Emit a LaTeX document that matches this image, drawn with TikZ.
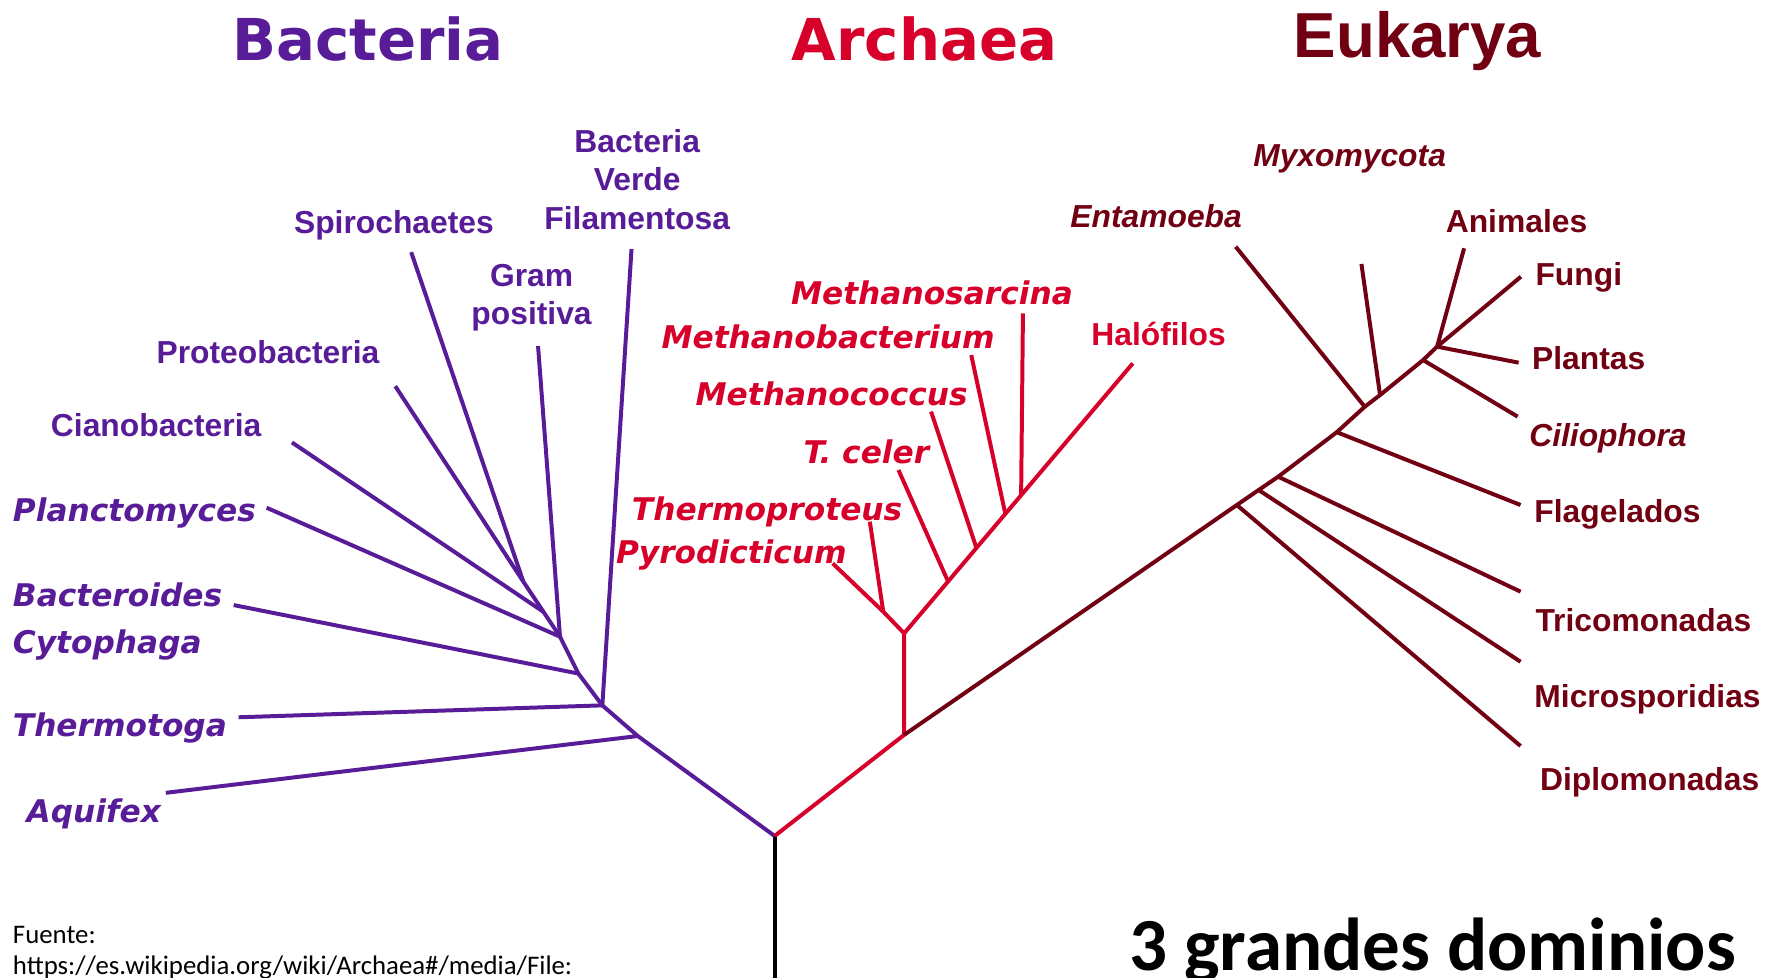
\documentclass[tikz,border=0pt]{standalone}
\usepackage{fontspec}
\newfontfamily\arialf{Liberation Sans}
\newfontfamily\dejaf{DejaVu Sans}[ItalicFont={DejaVu Sans Oblique},BoldFont={DejaVu Sans Bold},BoldItalicFont={DejaVu Sans Bold Oblique}]
\newfontfamily\calf{Carlito}
\definecolor{bpur}{RGB}{88,28,152}
\definecolor{ared}{RGB}{214,0,42}
\definecolor{edark}{RGB}{112,0,18}
\begin{document}
\begin{tikzpicture}[x=0.5pt,y=-0.5pt,
  br/.style={line width=1.75pt, line join=round},
  lab/.style={inner sep=0pt, anchor=base west},
  ar/.style={font=\arialf\bfseries\fontsize{14}{17}\selectfont},
  ari/.style={font=\arialf\bfseries\itshape\fontsize{14}{17}\selectfont},
  dvi/.style={font=\dejaf\bfseries\itshape\fontsize{13.75}{16}\selectfont},
  ttl/.style={inner sep=0pt, anchor=base}]
\useasboundingbox (0,0) rectangle (1568,861);

% titles
\node[ttl, text=bpur, font=\dejaf\bfseries\fontsize{25.4}{30}\selectfont] (tB) at (324,53.6) {Bacteria};
\node[ttl, text=ared, font=\dejaf\bfseries\fontsize{25.4}{30}\selectfont] (tA) at (814,53.6) {Archaea};
\node[ttl, text=edark, font=\arialf\bfseries\fontsize{28}{32}\selectfont] (tE) at (1248,51) {Eukarya};

% coordinates
\coordinate (root) at (682,736);
\coordinate (rootbot) at (682,870);
\coordinate (A0) at (796,647);
% bacteria
\coordinate (bAq) at (561.5,648);
\coordinate (bTh) at (530.3,621);
\coordinate (bBc) at (509.2,593);
\coordinate (bCl) at (493,560.5);
\coordinate (bCy) at (478.5,538.7);
\coordinate (bSP) at (460.7,512);
\coordinate (lAq) at (146,698);
\coordinate (lTh) at (210,631.5);
\coordinate (lBc) at (205.7,532.7);
\coordinate (lPl) at (234.7,447);
\coordinate (lCi) at (257,389.5);
\coordinate (lPr) at (348,340);
\coordinate (lSp) at (362,222);
\coordinate (lGr) at (473.7,304.7);
\coordinate (lFi) at (556,219.3);
% archaea
\coordinate (A1) at (796,557.6);
\coordinate (lPy) at (733.1,496);
\coordinate (aTp) at (777.6,538.5);
\coordinate (lTp) at (765.8,459.3);
\coordinate (lHa) at (997.3,319.9);
\coordinate (aTc) at (834.7,512);
\coordinate (lTc) at (791,413.8);
\coordinate (aMc) at (859.8,482.8);
\coordinate (lMc) at (819.7,362.4);
\coordinate (aMb) at (885,452);
\coordinate (lMb) at (855.1,312.6);
\coordinate (aMs) at (899,435.8);
\coordinate (lMs) at (900.6,275.9);
% eukarya
\coordinate (eDi) at (1088.9,444.6);
\coordinate (eMi) at (1108.1,431.4);
\coordinate (eTr) at (1125.3,419.7);
\coordinate (eFl) at (1176.9,380.5);
\coordinate (eEn) at (1201.5,358.1);
\coordinate (eMy) at (1215,347.8);
\coordinate (eCi) at (1252.9,317);
\coordinate (eAF) at (1265.2,305.2);
\coordinate (lDi) at (1338.7,656.8);
\coordinate (lMi) at (1338.7,582.6);
\coordinate (lTr) at (1338.7,520.9);
\coordinate (lFl) at (1338.7,444.6);
\coordinate (lEn) at (1087.9,217.2);
\coordinate (lMy) at (1198.6,232.4);
\coordinate (lCi2) at (1336.1,366.8);
\coordinate (lPa) at (1337,319.3);
\coordinate (lFu) at (1339,243.6);
\coordinate (lAn) at (1289,218.6);

% root
\draw[br, black] (rootbot) -- (root);
% bacteria branches
\begin{scope}[draw=bpur]
\draw[br] (root) -- (bAq) -- (bTh) -- (bBc) -- (bCl) -- (bCy) -- (bSP);
\draw[br] (bAq) -- (lAq);
\draw[br] (bTh) -- (lTh);
\draw[br] (bTh) -- (lFi);
\draw[br] (bBc) -- (lBc);
\draw[br] (bCl) -- (lPl);
\draw[br] (bCl) -- (lGr);
\draw[br] (bCy) -- (lCi);
\draw[br] (bSP) -- (lPr);
\draw[br] (bSP) -- (lSp);
\end{scope}
% archaea branches
\begin{scope}[draw=ared]
\draw[br] (root) -- (A0) -- (A1);
\draw[br] (A1) -- (aTp) -- (lPy);
\draw[br] (aTp) -- (lTp);
\draw[br] (A1) -- (lHa);
\draw[br] (aTc) -- (lTc);
\draw[br] (aMc) -- (lMc);
\draw[br] (aMb) -- (lMb);
\draw[br] (aMs) -- (lMs);
\end{scope}
% eukarya branches
\begin{scope}[draw=edark]
\draw[br] (A0) -- (eDi) -- (eMi) -- (eTr) -- (eFl) -- (eEn) -- (eMy) -- (eCi) -- (eAF);
\draw[br] (eDi) -- (lDi);
\draw[br] (eMi) -- (lMi);
\draw[br] (eTr) -- (lTr);
\draw[br] (eFl) -- (lFl);
\draw[br] (eEn) -- (lEn);
\draw[br] (eMy) -- (lMy);
\draw[br] (eCi) -- (lCi2);
\draw[br] (eAF) -- (lPa);
\draw[br] (eAF) -- (lFu);
\draw[br] (eAF) -- (lAn);
\end{scope}

% bacteria labels
\begin{scope}[text=bpur]
\node[ttl, ar] (nFi1) at (561,134) {Bacteria};
\node[ttl, ar] (nFi2) at (561,168) {Verde};
\node[ttl, ar] (nFi3) at (561,202) {Filamentosa};
\node[lab, ar] (nSp) at (258.5,206) {Spirochaetes};
\node[ttl, ar] (nGr1) at (468,252) {Gram};
\node[ttl, ar] (nGr2) at (468,286) {positiva};
\node[lab, ar] (nPr) at (137.5,320) {Proteobacteria};
\node[lab, ar] (nCi) at (44.5,384) {Cianobacteria};
\node[lab, dvi] (nPl) at (11,459) {Planctomyces};
\node[lab, dvi] (nBc) at (11,534) {Bacteroides};
\node[lab, dvi] (nCy) at (11,575) {Cytophaga};
\node[lab, dvi] (nTh) at (11,648) {Thermotoga};
\node[lab, dvi] (nAq) at (23,724) {Aquifex};
\end{scope}
% archaea labels
\begin{scope}[text=ared]
\node[lab, dvi] (nMs) at (696,268) {Methanosarcina};
\node[lab, dvi] (nMb) at (582,307) {Methanobacterium};
\node[lab, dvi] (nMc) at (612,357) {Methanococcus};
\node[lab, dvi] (nTc) at (707,408) {T. celer};
\node[lab, dvi] (nTp) at (556,458) {Thermoproteus};
\node[lab, dvi] (nPy) at (542,496) {Pyrodicticum};
\node[lab, ar] (nHa) at (960.5,304) {Halófilos};
\end{scope}
% eukarya labels
\begin{scope}[text=edark]
\node[lab, ari] (nMy) at (1103,147) {Myxomycota};
\node[lab, ari] (nEn) at (942,200) {Entamoeba};
\node[lab, ar] (nAn) at (1272.5,205) {Animales};
\node[lab, ar] (nFu) at (1351.5,251) {Fungi};
\node[lab, ar] (nPa) at (1348.5,325) {Plantas};
\node[lab, ari] (nCi2) at (1346,393) {Ciliophora};
\node[lab, ar] (nFl) at (1350.5,460) {Flagelados};
\node[lab, ar] (nTr) at (1351.5,556) {Tricomonadas};
\node[lab, ar] (nMi) at (1350.5,623) {Microsporidias};
\node[lab, ar] (nDi) at (1355.5,696) {Diplomonadas};
\end{scope}

% source and caption
\node[lab, font=\calf\fontsize{11.8}{14}\selectfont] (src1) at (11,831) {Fuente:};
\node[lab, font=\calf\fontsize{11.8}{14}\selectfont] (src2) at (11,858) {https://es.wikipedia.org/wiki/Archaea\#/media/File:};
\node[lab, font=\calf\bfseries\fontsize{33}{40}\selectfont] (cap) at (994,854) {3 grandes dominios};
\end{tikzpicture}
\end{document}
